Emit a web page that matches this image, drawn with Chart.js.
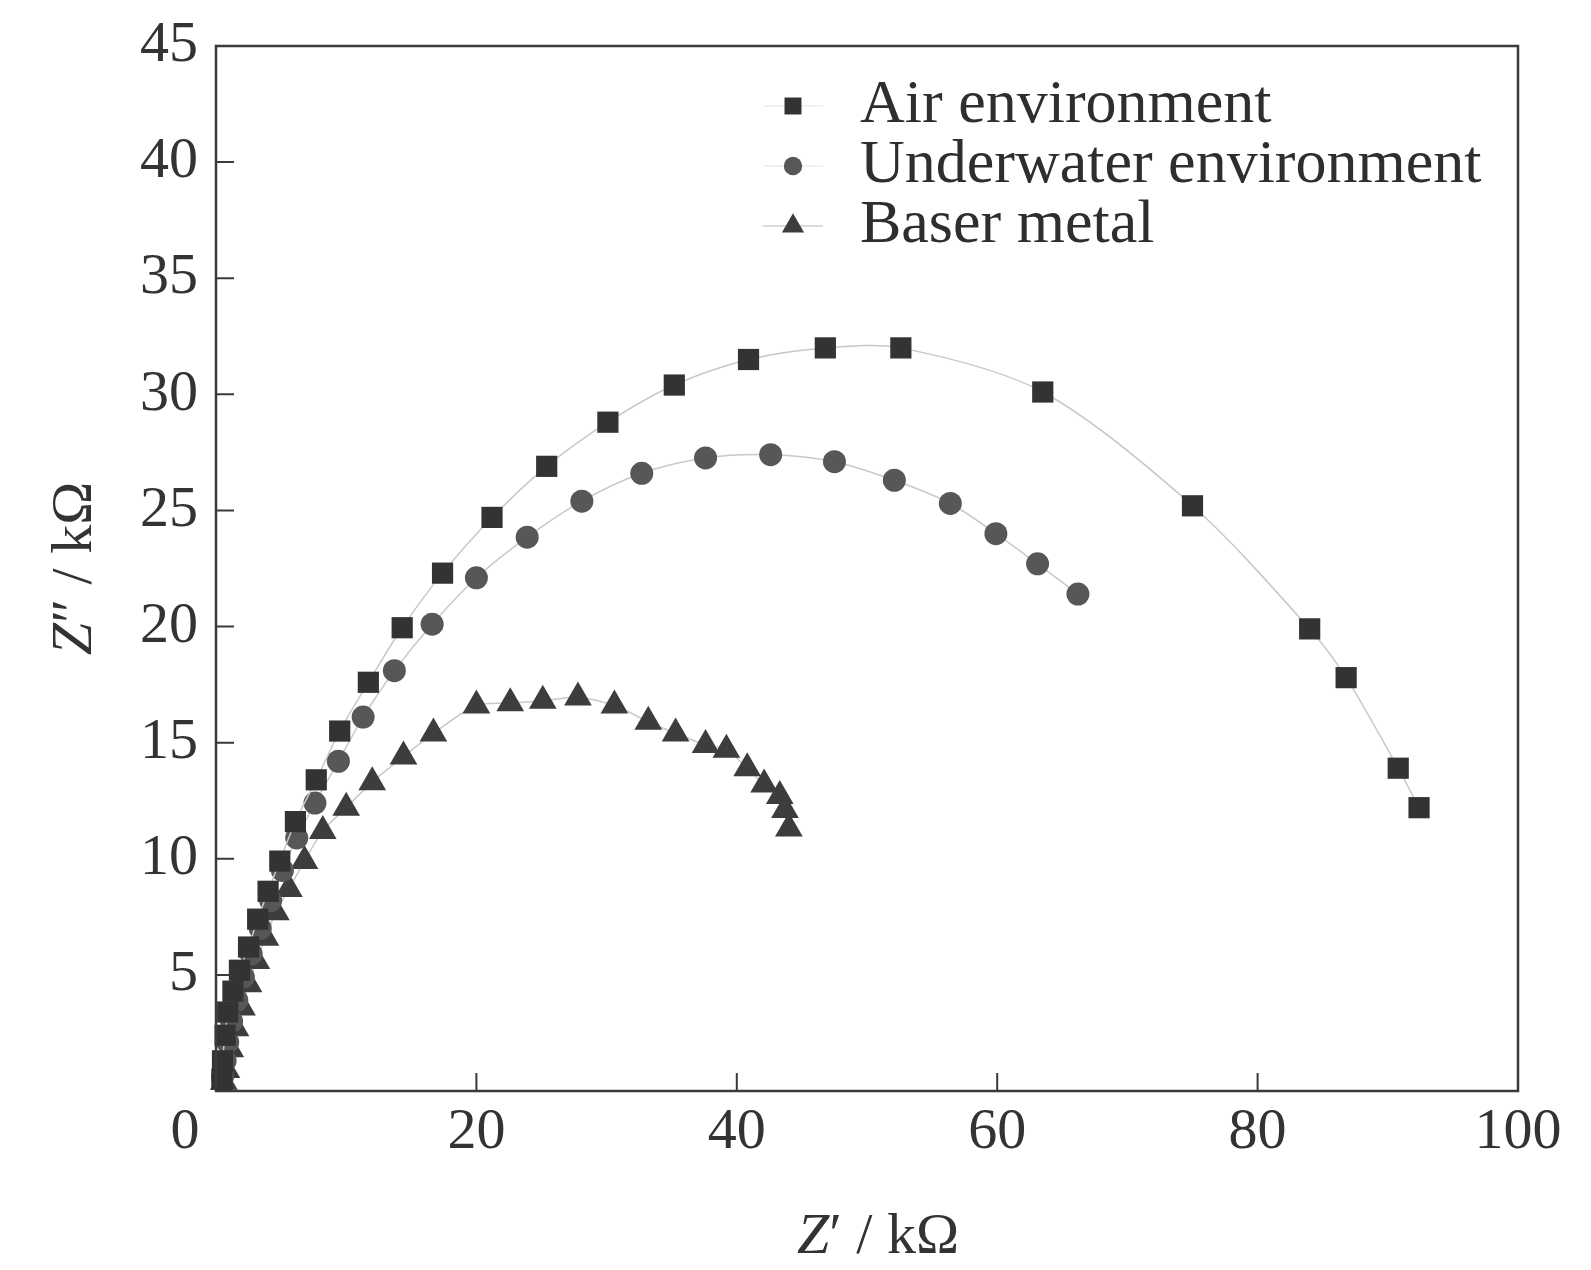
<!DOCTYPE html>
<html>
<head>
<meta charset="utf-8">
<script src="https://cdn.jsdelivr.net/npm/chart.js@4.4.0/dist/chart.umd.min.js"></script>
<style>
  html, body { margin: 0; padding: 0; background: #fff; }
</style>
</head>
<body>
<canvas id="chart" width="1591" height="1270"></canvas>
<script>
const xTicks = [0, 20, 40, 60, 80, 100];
const yTicks = [0, 5, 10, 15, 20, 25, 30, 35, 40, 45];

// Z' / Z'' in kOhm (high frequency first)
const airX = [0.45, 0.5, 0.7, 0.9, 1.3, 1.8, 2.5, 3.2, 4.0, 4.9, 6.1, 7.7, 9.5, 11.7, 14.3, 17.4, 21.2, 25.4, 30.1, 35.2, 40.9, 46.8, 52.6, 63.5, 75.0, 84.0, 86.8, 90.8, 92.4];
const airY = [0.5, 1.3, 2.4, 3.4, 4.3, 5.2, 6.2, 7.4, 8.6, 9.9, 11.6, 13.4, 15.5, 17.6, 19.95, 22.3, 24.7, 26.9, 28.8, 30.4, 31.5, 32.0, 32.0, 30.1, 25.2, 19.9, 17.8, 13.9, 12.2];

const waterX = [0.5, 0.7, 0.9, 1.2, 1.6, 2.1, 2.7, 3.4, 4.2, 5.1, 6.2, 7.6, 9.4, 11.3, 13.7, 16.6, 20.0, 23.9, 28.1, 32.7, 37.6, 42.6, 47.5, 52.1, 56.4, 59.9, 63.1, 66.2];
const waterY = [0.6, 1.3, 2.1, 3.0, 3.9, 4.9, 5.9, 7.0, 8.2, 9.5, 10.9, 12.4, 14.2, 16.1, 18.1, 20.1, 22.1, 23.85, 25.4, 26.6, 27.26, 27.4, 27.1, 26.3, 25.3, 24.0, 22.7, 21.4];

const baseX = [0.6, 0.8, 1.1, 1.5, 2.0, 2.5, 3.1, 3.8, 4.6, 5.6, 6.8, 8.2, 10.0, 12.0, 14.4, 16.7, 20.0, 22.6, 25.1, 27.8, 30.6, 33.2, 35.3, 37.6, 39.2, 40.8, 42.1, 43.3, 43.7, 44.0];
const baseY = [0.4, 0.9, 1.8, 2.7, 3.6, 4.6, 5.6, 6.6, 7.7, 8.7, 9.9, 11.2, 12.2, 13.3, 14.4, 15.4, 16.6, 16.7, 16.8, 16.95, 16.6, 15.9, 15.4, 14.9, 14.7, 13.9, 13.2, 12.7, 12.1, 11.3];

const seriesNames = ['Air environment', 'Underwater environment', 'Baser metal'];

const FONT = "'Liberation Serif', 'DejaVu Serif', serif";
const zip = (xs, ys) => xs.map((x, i) => ({ x: x, y: ys[i] }));

function series(label, data, style, radius, color) {
  return {
    label: label,
    data: data,
    showLine: true,
    tension: 0.3,
    borderColor: '#c8c8c8',
    borderWidth: 1.5,
    pointStyle: style,
    pointRadius: radius,
    pointHoverRadius: radius,
    pointBackgroundColor: color,
    pointBorderColor: color,
    pointBorderWidth: 0,
    clip: false
  };
}

// inward tick marks, box frame, origin label, axis titles
const frame = {
  id: 'frame',
  afterDraw(chart) {
    const { ctx, chartArea: a, scales: { x, y } } = chart;
    ctx.save();
    ctx.strokeStyle = '#3a3a3a';
    ctx.lineWidth = 2.5;
    ctx.strokeRect(a.left, a.top, a.right - a.left, a.bottom - a.top);
    ctx.lineWidth = 2;
    ctx.beginPath();
    xTicks.forEach(v => {
      if (v <= x.min || v >= x.max) return;
      const px = x.getPixelForValue(v);
      ctx.moveTo(px, a.bottom);
      ctx.lineTo(px, a.bottom - 18);
    });
    yTicks.forEach(v => {
      if (v <= y.min || v >= y.max) return;
      const py = y.getPixelForValue(v);
      ctx.moveTo(a.left, py);
      ctx.lineTo(a.left + 18, py);
    });
    ctx.stroke();

    // shared origin label sits left of the axis
    ctx.fillStyle = '#333';
    ctx.font = '58px ' + FONT;
    ctx.textAlign = 'center';
    ctx.textBaseline = 'middle';
    ctx.fillText('0', x.getPixelForValue(0) - 31, a.bottom + 7 + 58 * 1.2 / 2);

    // axis titles with italic Z
    const drawTitle = (rest, cx, cy, rot) => {
      ctx.save();
      ctx.translate(cx, cy);
      ctx.rotate(rot);
      ctx.font = 'italic 58px ' + FONT;
      const wz = ctx.measureText('Z').width;
      ctx.font = '58px ' + FONT;
      const wr = ctx.measureText(rest).width;
      const x0 = -(wz + wr) / 2;
      ctx.textAlign = 'left';
      ctx.font = 'italic 58px ' + FONT;
      ctx.fillText('Z', x0, 0);
      ctx.font = '58px ' + FONT;
      ctx.fillText(rest, x0 + wz, 0);
      ctx.restore();
    };
    drawTitle('\u2032 / k\u03A9', (a.left + a.right) / 2 + 11, 1238, 0);
    drawTitle('\u2033 / k\u03A9', 76, (a.top + a.bottom) / 2, -Math.PI / 2);
    ctx.restore();
  }
};

// legend drawn inside the plot, top right
const legendBox = {
  id: 'legendBox',
  afterDraw(chart) {
    const { ctx, chartArea: a } = chart;
    ctx.save();
    chart.data.datasets.forEach((ds, i) => {
      const mx = a.left + 577;
      const my = a.top + 60 + i * 60;
      ctx.strokeStyle = i === 2 ? '#cfcfcf' : '#ececec';
      ctx.lineWidth = 1.5;
      ctx.beginPath();
      ctx.moveTo(mx - 30, my);
      ctx.lineTo(mx + 30, my);
      ctx.stroke();
      ctx.fillStyle = ds.pointBackgroundColor;
      const r = ds.pointRadius * 0.8;
      ctx.beginPath();
      if (ds.pointStyle === 'rect') {
        const s = r * Math.SQRT1_2;
        ctx.rect(mx - s, my - s, 2 * s, 2 * s);
      } else if (ds.pointStyle === 'circle') {
        ctx.arc(mx, my, r, 0, Math.PI * 2);
      } else {
        ctx.moveTo(mx, my - r);
        ctx.lineTo(mx + r * Math.sin(Math.PI * 2 / 3), my + r / 2);
        ctx.lineTo(mx - r * Math.sin(Math.PI * 2 / 3), my + r / 2);
        ctx.closePath();
      }
      ctx.fill();
      ctx.fillStyle = '#2e2e2e';
      ctx.font = '62px ' + FONT;
      ctx.textAlign = 'left';
      ctx.textBaseline = 'middle';
      ctx.fillText(ds.label, a.left + 644, my);
    });
    ctx.restore();
  }
};

new Chart(document.getElementById('chart'), {
  type: 'scatter',
  data: {
    datasets: [
      series(seriesNames[0], zip(airX, airY), 'rect', 15, '#333333'),
      series(seriesNames[1], zip(waterX, waterY), 'circle', 11.5, '#575757'),
      series(seriesNames[2], zip(baseX, baseY), 'triangle', 16, '#3d3d3d')
    ]
  },
  options: {
    responsive: false,
    animation: false,
    devicePixelRatio: 1,
    layout: { padding: { top: 46, right: 73, left: 0, bottom: 0 } },
    plugins: {
      legend: { display: false },
      tooltip: { enabled: false }
    },
    scales: {
      x: {
        type: 'linear',
        min: 0,
        max: 100,
        grid: { display: false, drawTicks: false },
        border: { display: false },
        afterBuildTicks: s => { s.ticks = xTicks.map(v => ({ value: v })); },
        afterFit: s => { s.height = 179; },
        ticks: {
          padding: 7,
          color: '#333',
          font: { family: FONT, size: 58 },
          callback: v => (v === 0 ? '' : v)
        }
      },
      y: {
        type: 'linear',
        min: 0,
        max: 45,
        grid: { display: false, drawTicks: false },
        border: { display: false },
        afterBuildTicks: s => { s.ticks = yTicks.map(v => ({ value: v })); },
        afterFit: s => { s.width = 216; s.paddingTop = 0; s.paddingBottom = 0; },
        ticks: {
          padding: 18,
          color: '#333',
          font: { family: FONT, size: 58, lineHeight: 1 },
          callback: v => (v === 0 ? '' : v)
        }
      }
    }
  },
  plugins: [frame, legendBox]
});
</script>
</body>
</html>
